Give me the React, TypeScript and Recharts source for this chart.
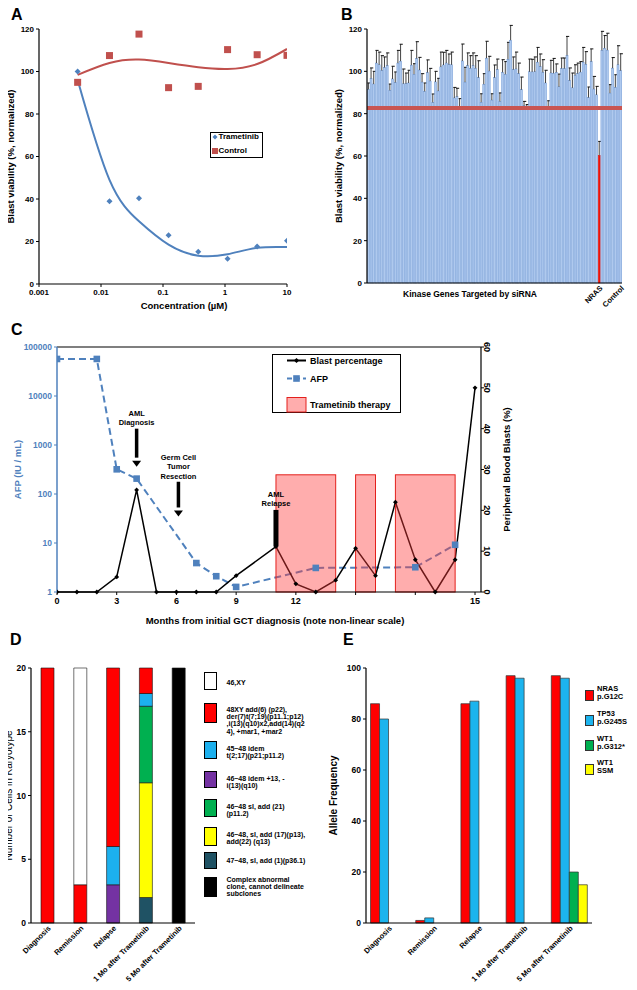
import React from 'react';
import {
  ComposedChart,
  Line,
  Scatter,
  XAxis,
  YAxis,
  BarChart,
  Bar,
  Cell,
  ReferenceLine,
  ReferenceDot,
} from 'recharts';

const FONT = '"Liberation Sans", Arial, Helvetica, sans-serif';
const BLUE = '#4F81BD';
const RED = '#C0504D';

// ---- A: dose response
const doseConc = [0.0042, 0.0137, 0.041, 0.123, 0.37, 1.1, 3.3, 10];
const trametinibViab = [100, 38.9, 40.3, 23, 15.2, 11.9, 17.6, 20.4];
const controlViab = [94.9, 107.5, 117.6, 92.4, 93, 110.3, 107.9, 107.6];
const trametinibTrend = [96, 49, 29.5, 18.5, 13.3, 14, 17, 17.4];
const controlTrend = [98.4, 104, 105.6, 104, 102, 101.2, 103.5, 110.6];
const doseTicks = [0.001, 0.01, 0.1, 1, 10];
const viabTicks = [0, 20, 40, 60, 80, 100, 120];

// ---- B: siRNA screen
const kinaseMeans = [
  91.5, 96.6, 94, 103.9, 103.1, 100.4, 101.8, 102.7, 91, 96.4,
  94.7, 103.9, 104.8, 94.1, 94.2, 94.5, 102.9, 98.6, 106, 100.6,
  94.9, 90.5, 99.4, 95.4, 85.3, 95, 90.7, 102.1, 103, 103.9,
  103.2, 103.1, 87.4, 88, 83.1, 104.9, 94.9, 102.7, 101.4, 102.7,
  101.4, 97, 85.4, 93.9, 106.2, 100.1, 86.4, 97, 100.8, 85.8,
  99.5, 98.6, 105.7, 114.7, 100.8, 101.1, 98.9, 91.3, 83.8, 83.3,
  99.8, 99.7, 99.8, 104.3, 102.2, 99.5, 94.5, 83.1, 99.2, 99.1,
  99.5, 92.7, 101.3, 101.3, 107.5, 95.6, 92.2, 98.1, 98.9, 99.6,
  104.3, 103.3, 87.6, 104.6, 91.6, 88.9,
  60.3,
  109.9, 110.9, 110, 89.7, 101.5, 92.4, 103.1, 100.3,
];
const kinaseErrs = [
  3, 5, 6, 6, 6, 7, 5, 6, 3, 6,
  5, 6, 8, 7, 5, 6, 7, 5, 8, 6,
  4, 4, 6, 6, 4, 5, 6, 7, 6, 6,
  5, 6, 5, 4, 4, 8, 7, 6, 6, 6,
  6, 8, 4, 5, 8, 7, 3, 6, 5, 4,
  6, 6, 8, 7, 6, 8, 5, 6, 2, 1,
  6, 6, 7, 7, 6, 6, 6, 3, 6, 7,
  4, 6, 5, 5, 9, 6, 7, 5, 5, 5,
  7, 6, 5, 6, 6, 4,
  6.6,
  9, 6, 8, 4, 5, 6, 9, 8,
];
const kinaseNamed: Record<number, string> = { 86: 'NRAS', 94: 'Control' };
const cutoffViab = 82.7;

// ---- C: clinical course
const cIndex = [0, 1, 2, 3, 4, 5, 6, 7, 8, 9, 10, 11, 12, 13, 14, 15, 16, 17, 18, 19, 20, 21];
const blastPct = [0, 0, 0, 3.7, 25, 0, 0, 0, 0, 4, null, 11.1, 2, 0, 2.9, 10.7, 4, 22, 7.9, 0, 7.9, 50];
const afpLevels = [57000, null, 57000, 319, 206, null, null, 3.9, 2.1, 1.27, null, null, null, 3.1, null, null, null, null, 3.2, null, 9.2, null];
const cTickVals = [0, 3, 6, 9, 12, 15, 18, 21];
const cTickLabels = ['0', '3', '6', '9', '12', '', '', '15'];
const afpTicks = [1, 10, 100, 1000, 10000, 100000];
const blastTicks = [0, 10, 20, 30, 40, 50, 60];
const therapyStart = [11, 15, 17];
const therapyEnd = [14, 16, 20];
const therapyTop = 28.7;
const noteX = [4, 6.1, 11];
const noteLines = [['AML', 'Diagnosis'], ['Germ Cell', 'Tumor', 'Resection'], ['AML', 'Relapse']];
const noteTextY = [[43.7, 41.4], [33, 30.7, 28.3], [23.9, 21.6]];
const noteArrowTop = [40, 27, 20.1];
const noteArrowTip = [30.7, 18.5, 11.2];

// ---- D: karyotype
const stages = ['Diagnosis', 'Remission', 'Relapse', '1 Mo after Trametinib', '5 Mo after Trametinib'];
const k4748sl1 = [0, 0, 0, 2, 0];
const k4648idem13 = [0, 0, 3, 0, 0];
const k4648sl17 = [0, 0, 0, 9, 0];
const k4648sl21 = [0, 0, 0, 6, 0];
const k4548idem = [0, 0, 3, 1, 0];
const k48XY = [20, 3, 14, 2, 0];
const k46XY = [0, 17, 0, 0, 0];
const kComplex = [0, 0, 0, 0, 20];
const karyoLegendText = [
  ['46,XY'],
  ['48XY add(6) (p22),', 'der(7)t(7;19)(p11.1;p12)', ',i(13)(q10)x2,add(14)(q2', '4), +mar1, +mar2'],
  ['45~48 idem', 't(2;17)(p21;p11.2)'],
  ['46~48 idem +13, -', 'i(13)(q10)'],
  ['46~48 sl, add (21)', '(p11.2)'],
  ['46~48, sl, add (17)(p13),', 'add(22) (q13)'],
  ['47~48, sl, add (1)(p36.1)'],
  ['Complex abnormal', 'clone, cannot delineate', 'subclones'],
];

// ---- E: allele frequency
const nrasG12C = [86, 1, 86, 97, 97];
const tp53G245S = [80, 2, 87, 96, 96];
const wt1G312 = [0, 0, 0, 0, 20];
const wt1SSM = [0, 0, 0, 0, 15];
const alleleLegendText = [['NRAS', 'p.G12C'], ['TP53', 'p.G245S'], ['WT1', 'p.G312*'], ['WT1', 'SSM']];

const axisLine = { stroke: '#000', strokeWidth: 1.2 };
const tickLine = { stroke: '#000' };
const tick8 = { fontSize: 8, fontWeight: 700, fill: '#000' };
const PINK = '#FF3B3B';

const yTitle = (text: string, dx: number, style: any = {}) => (props: any) => {
  const vb = props.viewBox || {};
  const x = vb.x + dx;
  const y = vb.y + vb.height / 2;
  return (
    <text x={x} y={y} transform={`rotate(-90 ${x} ${y})`} textAnchor="middle" dominantBaseline="central"
      style={{ fontSize: 9.5, fontWeight: 700, fill: '#000', ...style }}>
      {text}
    </text>
  );
};

const xTitle = (text: string, dx: number, dy: number, style: any = {}) => (props: any) => {
  const vb = props.viewBox || {};
  return (
    <text x={vb.x + dx} y={vb.y + dy} textAnchor="middle" dominantBaseline="central"
      style={{ fontSize: 9.5, fontWeight: 700, fill: '#000', ...style }}>
      {text}
    </text>
  );
};

const diamond = (cx: number, cy: number, s: number) => `M${cx},${cy - s}L${cx + s},${cy}L${cx},${cy + s}L${cx - s},${cy}Z`;

const TramDot = (p: any) => <path d={diamond(p.cx, p.cy, 3)} fill={BLUE} />;
const CtrlDot = (p: any) => <rect x={p.cx - 3.5} y={p.cy - 3.5} width={7} height={7} fill={RED} />;

const BlastDot = (p: any) =>
  p.cy == null || p.value == null ? <g key={`b${p.index}`} /> : <path key={`b${p.index}`} d={diamond(p.cx, p.cy, 2.4)} fill="#000" />;
const AfpDot = (p: any) =>
  p.cy == null || p.value == null ? <g key={`a${p.index}`} /> : <rect key={`a${p.index}`} x={p.cx - 3.3} y={p.cy - 3.3} width={6.6} height={6.6} fill={BLUE} />;

// pink therapy window drawn from the segment's corner points, so it sits over the lines
const TherapyBox = (p: any) => {
  const x = Math.min(p.x1, p.x2);
  const y = Math.min(p.y1, p.y2);
  return <rect x={x} y={y} width={Math.abs(p.x2 - p.x1)} height={Math.abs(p.y2 - p.y1)} fill={PINK} fillOpacity={0.42} stroke="#E3201C" strokeWidth={1} />;
};

const SlantTick = (p: any) => {
  const { x, y, payload } = p;
  if (!payload || !payload.value) return <g />;
  const ty = y + 2;
  return (
    <text x={x + 2} y={ty} transform={`rotate(-45 ${x + 2} ${ty})`} textAnchor="end" dominantBaseline="central"
      style={{ fontSize: 7.5, fontWeight: 700, fill: '#000' }}>
      {payload.value}
    </text>
  );
};

const BlastTick = (p: any) => {
  const { x, y, payload } = p;
  return (
    <text x={x} y={y} transform={`rotate(90 ${x} ${y})`} textAnchor="middle" style={{ fontSize: 9, fontWeight: 700, fill: '#000' }}>
      {payload.value}
    </text>
  );
};

const KinaseBar = (p: any) => {
  const { x, y, width, height, fill, payload } = p;
  if (!height) return <g />;
  const ePx = (payload.err * height) / payload.v;
  const cx = x + width / 2;
  const top = y - ePx;
  const isHit = payload.label === 'NRAS';
  return (
    <g>
      <rect x={x} y={y} width={width} height={height} fill={fill} stroke={isHit ? fill : '#6A95D4'} strokeWidth={0.5} />
      <line x1={cx} x2={cx} y1={y} y2={top} stroke="#111" strokeWidth={0.8} />
      <line x1={cx - 1} x2={cx + 2.2} y1={top} y2={top} stroke="#111" strokeWidth={1} />
    </g>
  );
};

const Txt = ({ x, y, size = 7, color = '#000', children }: any) => (
  <div style={{ position: 'absolute', left: x, top: y, fontSize: size, fontWeight: 700, color, lineHeight: 1, whiteSpace: 'nowrap', transform: 'translateY(-50%)' }}>
    {children}
  </div>
);

const Swatch = ({ x, y, w, h, fill, border = '#000' }: any) => (
  <div style={{ position: 'absolute', left: x, top: y, width: w, height: h, background: fill, border: `1px solid ${border}`, boxSizing: 'border-box' }} />
);

const PanelA = () => {
  const tramPts = doseConc.map((x, i) => ({ x, y: trametinibViab[i] }));
  const ctrlPts = doseConc.map((x, i) => ({ x, y: controlViab[i] }));
  const tramFit = doseConc.map((x, i) => ({ x, y: trametinibTrend[i] }));
  const ctrlFit = doseConc.map((x, i) => ({ x, y: controlTrend[i] }));
  return (
    <div style={{ position: 'absolute', left: 0, top: 0 }}>
      <ComposedChart width={320} height={320} margin={{ top: 29, right: 33, bottom: 0, left: 0 }}>
        <XAxis type="number" dataKey="x" scale="log" domain={[0.001, 10]} ticks={doseTicks} allowDataOverflow
          tick={tick8} tickSize={3} tickMargin={2} axisLine={axisLine} tickLine={tickLine} height={36}
          label={xTitle('Concentration (\u00b5M)', 145, 21)} />
        <YAxis type="number" dataKey="y" domain={[0, 120]} ticks={viabTicks} width={39} tick={tick8} tickSize={3} tickMargin={2}
          axisLine={axisLine} tickLine={tickLine} label={yTitle('Blast viability (%, normalized)', 10.5)} />
        <Line data={tramFit} dataKey="y" type="natural" stroke={BLUE} strokeWidth={2} dot={false} isAnimationActive={false} />
        <Line data={ctrlFit} dataKey="y" type="natural" stroke={RED} strokeWidth={2} dot={false} isAnimationActive={false} />
        <Scatter data={tramPts} dataKey="y" shape={TramDot} isAnimationActive={false} />
        <Scatter data={ctrlPts} dataKey="y" shape={CtrlDot} isAnimationActive={false} />
      </ComposedChart>
    </div>
  );
};

const PanelB = () => {
  const rows = kinaseMeans.map((v, i) => ({ label: kinaseNamed[i] || '', v, err: kinaseErrs[i] }));
  return (
    <div style={{ position: 'absolute', left: 320, top: 0 }}>
      <BarChart width={317} height={320} data={rows} margin={{ top: 29, right: 15, bottom: 0, left: 0 }} barCategoryGap="14%">
        <XAxis dataKey="label" interval={0} tick={<SlantTick />} tickLine={false} tickSize={0} tickMargin={2} axisLine={axisLine}
          height={37} label={xTitle('Kinase Genes Targeted by siRNA', 103, 11, { fontSize: 8.5 })} />
        <YAxis type="number" domain={[0, 120]} ticks={viabTicks} width={47} tick={tick8} tickSize={3} tickMargin={2}
          axisLine={axisLine} tickLine={tickLine} label={yTitle('Blast viability (%, normalized)', 18)} />
        <Bar dataKey="v" shape={KinaseBar} isAnimationActive={false}>
          {rows.map((r, i) => (
            <Cell key={`k-${i}`} fill={r.label === 'NRAS' ? '#E8140E' : '#AFC9EE'} />
          ))}
        </Bar>
        <ReferenceLine y={cutoffViab} stroke="#C85552" strokeWidth={4} />
      </BarChart>
    </div>
  );
};

const PanelC = () => {
  const rows = cIndex.map((i, k) => ({ i, blast: blastPct[k], afp: afpLevels[k] }));
  return (
    <div style={{ position: 'absolute', left: 0, top: 310 }}>
      <ComposedChart width={637} height={330} data={rows} margin={{ top: 37, right: 116, bottom: 0, left: 0 }}>
        <XAxis type="number" dataKey="i" domain={[0, 21.3]} ticks={cTickVals} allowDataOverflow
          tickFormatter={(v: number) => cTickLabels[cTickVals.indexOf(v)]}
          tick={{ fontSize: 9, fontWeight: 700, fill: '#000' }} tickSize={3} tickMargin={3} axisLine={axisLine} tickLine={tickLine}
          height={48} label={xTitle('Months from initial GCT diagnosis (note non-linear scale)', 218, 28)} />
        <YAxis yAxisId="afp" type="number" scale="log" domain={[1, 100000]} ticks={afpTicks} allowDataOverflow width={57}
          tick={{ fontSize: 8.5, fontWeight: 700, fill: BLUE }} tickSize={3} tickMargin={2}
          axisLine={{ stroke: BLUE, strokeWidth: 1.5 }} tickLine={{ stroke: BLUE }}
          label={yTitle('AFP (IU / mL)', 17, { fill: BLUE })} />
        <YAxis yAxisId="blast" orientation="right" type="number" domain={[0, 60]} ticks={blastTicks} width={40}
          tick={<BlastTick />} tickSize={3} tickMargin={0} axisLine={axisLine} tickLine={tickLine}
          label={yTitle('Peripheral Blood Blasts (%)', 25)} />
        <ReferenceLine yAxisId="blast" y={60} stroke="#000" strokeWidth={1.2} />
        <Line yAxisId="afp" dataKey="afp" type="linear" connectNulls stroke={BLUE} strokeWidth={2} strokeDasharray="7 4"
          dot={AfpDot} isAnimationActive={false} />
        <Line yAxisId="blast" dataKey="blast" type="linear" connectNulls stroke="#000" strokeWidth={1.5}
          dot={BlastDot} isAnimationActive={false} />
        {therapyStart.map((s, k) => (
          <ReferenceLine key={`t-${k}`} yAxisId="blast" segment={[{ x: s, y: 0 }, { x: therapyEnd[k], y: therapyTop }]}
            shape={TherapyBox} ifOverflow="visible" />
        ))}
        {noteX.map((x, k) => (
          <ReferenceLine key={`ns-${k}`} yAxisId="blast"
            segment={[{ x, y: noteArrowTop[k] }, { x, y: k === 2 ? noteArrowTip[k] : noteArrowTip[k] + 2.2 }]}
            stroke="#000" strokeWidth={k === 2 ? 5 : 3.5} />
        ))}
        {noteX.slice(0, 2).map((x, k) => (
          <ReferenceDot key={`nh-${k}`} yAxisId="blast" x={x} y={noteArrowTip[k]} r={0}
            shape={(p: any) => <path d={`M${p.cx - 4.5},${p.cy - 6}L${p.cx + 4.5},${p.cy - 6}L${p.cx},${p.cy}Z`} fill="#000" />} />
        ))}
        {noteX.map((x, k) =>
          noteLines[k].map((line, j) => (
            <ReferenceDot key={`nt-${k}-${j}`} yAxisId="blast" x={x} y={noteTextY[k][j]} r={0}
              shape={(p: any) => (
                <text x={p.cx} y={p.cy} textAnchor="middle" dominantBaseline="central" style={{ fontSize: 7.5, fontWeight: 700, fill: '#000' }}>
                  {line}
                </text>
              )} />
          ))
        )}
      </ComposedChart>
    </div>
  );
};

const karyoSeries = [
  { key: 'k4748sl1', values: k4748sl1, fill: '#1F5264' },
  { key: 'k4648idem13', values: k4648idem13, fill: '#7432A2' },
  { key: 'k4648sl17', values: k4648sl17, fill: '#FFFF00' },
  { key: 'k4648sl21', values: k4648sl21, fill: '#00B050' },
  { key: 'k4548idem', values: k4548idem, fill: '#1CB0EE' },
  { key: 'k48XY', values: k48XY, fill: '#FF0000' },
  { key: 'k46XY', values: k46XY, fill: '#FFFFFF' },
  { key: 'kComplex', values: kComplex, fill: '#000000' },
];

const PanelD = () => {
  const rows = stages.map((stage, i) => {
    const r: any = { stage };
    karyoSeries.forEach((s) => { r[s.key] = s.values[i]; });
    return r;
  });
  return (
    <div style={{ position: 'absolute', left: 0, top: 640 }}>
      <BarChart width={320} height={350} data={rows} margin={{ top: 28, right: 125, bottom: 0, left: 0 }} barSize={13}>
        <XAxis dataKey="stage" interval={0} tick={<SlantTick />} tickLine={false} tickSize={0} tickMargin={2} axisLine={axisLine} height={67} />
        <YAxis type="number" domain={[0, 20]} ticks={[0, 5, 10, 15, 20]} width={31} tick={{ fontSize: 8.5, fontWeight: 700, fill: '#000' }}
          tickSize={3} tickMargin={2} axisLine={axisLine} tickLine={tickLine}
          label={yTitle('Number of Cells in Karyotype', 8.5, { fontSize: 10, fontWeight: 400 })} />
        {karyoSeries.map((s) => (
          <Bar key={s.key} dataKey={s.key} stackId="k" fill={s.fill} stroke="#111" strokeWidth={0.6} isAnimationActive={false} />
        ))}
      </BarChart>
    </div>
  );
};

const alleleSeries = [
  { key: 'nras', values: nrasG12C, fill: '#FF0000' },
  { key: 'tp53', values: tp53G245S, fill: '#1CB4EE' },
  { key: 'wt1a', values: wt1G312, fill: '#00B050' },
  { key: 'wt1b', values: wt1SSM, fill: '#FFFF00' },
];

const PanelE = () => {
  const rows = stages.map((stage, i) => {
    const r: any = { stage };
    alleleSeries.forEach((s) => { r[s.key] = s.values[i]; });
    return r;
  });
  return (
    <div style={{ position: 'absolute', left: 320, top: 640 }}>
      <BarChart width={317} height={350} data={rows} margin={{ top: 28, right: 45, bottom: 0, left: 0 }} barCategoryGap="10%" barGap={0}>
        <XAxis dataKey="stage" interval={0} tick={<SlantTick />} tickLine={false} tickSize={0} tickMargin={2} axisLine={axisLine} height={67} />
        <YAxis type="number" domain={[0, 100]} ticks={[0, 20, 40, 60, 80, 100]} width={46} tick={{ fontSize: 8.5, fontWeight: 700, fill: '#000' }}
          tickSize={3} tickMargin={2} axisLine={axisLine} tickLine={tickLine}
          label={yTitle('Allele Frequency', 13, { fontSize: 10 })} />
        {alleleSeries.map((s) => (
          <Bar key={s.key} dataKey={s.key} fill={s.fill} stroke="#333" strokeWidth={0.7} isAnimationActive={false} />
        ))}
      </BarChart>
    </div>
  );
};

const karyoLegendLayout = [
  { top: 672, h: 18, y: 682 },
  { top: 703, h: 20, y: 709 },
  { top: 741, h: 18, y: 747.5 },
  { top: 771, h: 17, y: 778 },
  { top: 799, h: 18, y: 806 },
  { top: 827, h: 19, y: 834 },
  { top: 852, h: 17, y: 860 },
  { top: 877, h: 20, y: 879 },
];
const karyoLegendFill = ['#FFFFFF', '#FF0000', '#1CB0EE', '#7432A2', '#00B050', '#FFFF00', '#1F5264', '#000000'];
const alleleLegendTop = [689, 714, 739, 763];

const Legends = () => (
  <>
    {/* A */}
    <div style={{ position: 'absolute', left: 210, top: 132, width: 53, height: 26, border: '1px solid #000', boxSizing: 'border-box', background: '#fff' }} />
    {/* C */}
    <div style={{ position: 'absolute', left: 271.5, top: 353.5, width: 129.5, height: 59.5, border: '1.5px solid #000', boxSizing: 'border-box' }} />
    <svg style={{ position: 'absolute', left: 0, top: 0 }} width={637} height={990} pointerEvents="none">
      <path d={diamond(215, 137, 2.5)} fill={BLUE} />
      <rect x={212} y={148} width={6} height={6} fill={RED} />
      <line x1={287} x2={306} y1={360.5} y2={360.5} stroke="#000" strokeWidth={2} />
      <path d={diamond(296.5, 360.5, 2.6)} fill="#000" />
      <line x1={287} x2={306} y1={378.5} y2={378.5} stroke={BLUE} strokeWidth={2} strokeDasharray="5 3" />
      <rect x={293.2} y={375.2} width={6.6} height={6.6} fill={BLUE} />
      <rect x={287} y={397.5} width={19} height={14.5} fill={PINK} fillOpacity={0.42} stroke="#E3201C" strokeWidth={1} />
    </svg>
    <Txt x={218.5} y={137} size={8}>Trametinib</Txt>
    <Txt x={218.5} y={151} size={8}>Control</Txt>
    <Txt x={310} y={360.5} size={9}>Blast percentage</Txt>
    <Txt x={310} y={378.5} size={9}>AFP</Txt>
    <Txt x={310} y={405} size={9}>Trametinib therapy</Txt>
    {/* D */}
    {karyoLegendText.map((lines, k) => (
      <React.Fragment key={`dl-${k}`}>
        <Swatch x={204} y={karyoLegendLayout[k].top} w={13} h={karyoLegendLayout[k].h} fill={karyoLegendFill[k]} />
        {lines.map((t, j) => (
          <Txt key={`dlt-${k}-${j}`} x={226.5} y={karyoLegendLayout[k].y + j * 7.2} size={7}>{t}</Txt>
        ))}
      </React.Fragment>
    ))}
    {/* E */}
    {alleleLegendText.map((lines, k) => (
      <React.Fragment key={`el-${k}`}>
        <Swatch x={584.5} y={alleleLegendTop[k] + 1} w={9} h={11} fill={alleleSeries[k].fill} border="#333" />
        {lines.map((t, j) => (
          <Txt key={`elt-${k}-${j}`} x={597} y={alleleLegendTop[k] + j * 8} size={7.5}>{t}</Txt>
        ))}
      </React.Fragment>
    ))}
  </>
);

const Letter = ({ x, y, children }: any) => (
  <div style={{ position: 'absolute', left: x, top: y, fontSize: 16, fontWeight: 700, lineHeight: 1 }}>{children}</div>
);

export default function App() {
  return (
    <div style={{ position: 'relative', width: 637, height: 990, margin: -8, background: '#fff', fontFamily: FONT, overflow: 'hidden' }}>
      <PanelA />
      <PanelB />
      <PanelC />
      <PanelD />
      <PanelE />
      <Legends />
      <Letter x={11} y={7}>A</Letter>
      <Letter x={341} y={7}>B</Letter>
      <Letter x={11} y={322}>C</Letter>
      <Letter x={10} y={632}>D</Letter>
      <Letter x={343} y={632}>E</Letter>
    </div>
  );
}
